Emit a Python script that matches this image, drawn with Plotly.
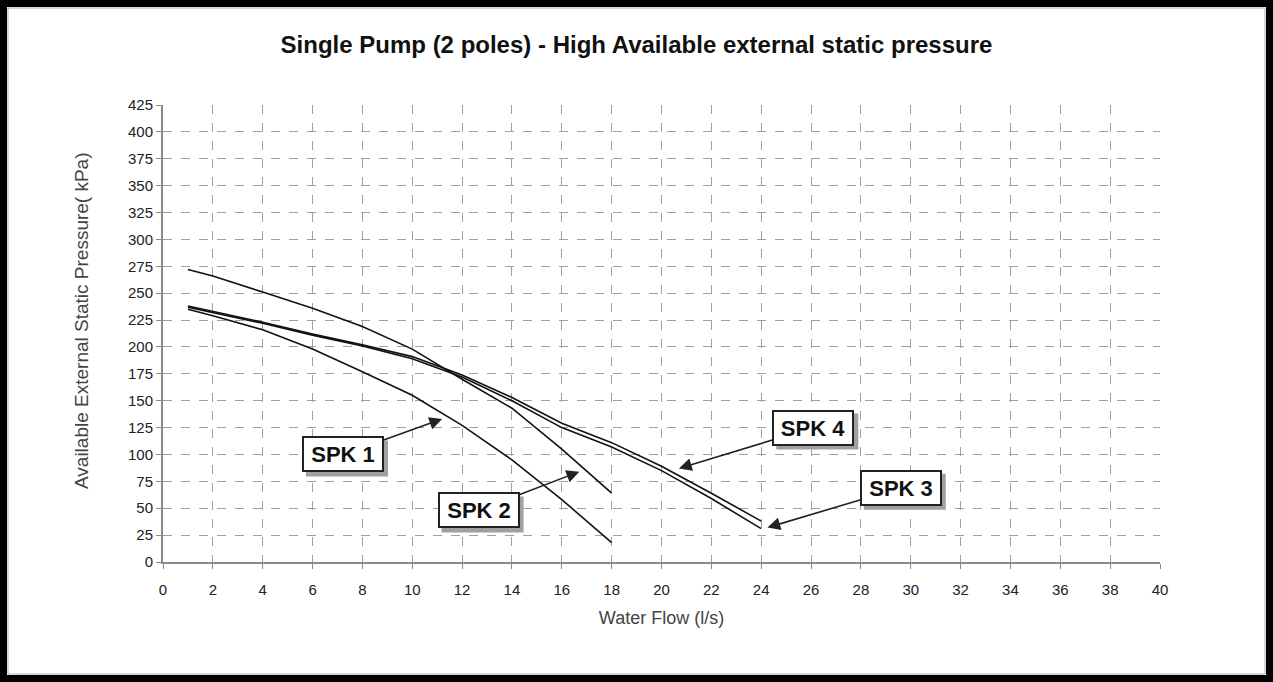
import plotly.graph_objects as go

# ---- data ----
flow_12 = [1, 2, 4, 6, 8, 10, 12, 14, 16, 18]
spk1 = [235, 229, 216, 198, 177, 155, 127, 95, 58, 18]
spk2 = [272, 266, 251, 236, 219, 198, 170, 143, 105, 64]

flow_34 = [1, 2, 4, 6, 8, 10, 12, 14, 16, 18, 20, 22, 24]
spk3 = [237, 232, 222, 211, 201, 189, 172, 150, 125, 107, 85, 59, 31]
spk4 = [238, 233, 223, 212, 202, 191, 174, 153, 129, 111, 89, 64, 38]

x_ticks = list(range(0, 41, 2))
y_ticks = list(range(0, 426, 25))

# label name, arrow tip (x, y), box centre (x, y)
labels = [
    ("SPK 1", 11.2, 133, 7.22, 100),
    ("SPK 2", 16.7, 84, 12.66, 48),
    ("SPK 4", 20.7, 87, 26.09, 125),
    ("SPK 3", 24.25, 32, 29.6, 69),
]

FONT = "Liberation Sans, Arial, sans-serif"

fig = go.Figure()
for name, xs, ys in [("SPK 1", flow_12, spk1), ("SPK 2", flow_12, spk2),
                     ("SPK 3", flow_34, spk3), ("SPK 4", flow_34, spk4)]:
    fig.add_trace(go.Scatter(x=xs, y=ys, mode="lines", name=name,
                             line=dict(color="#111111", width=1.6),
                             showlegend=False, hoverinfo="skip"))

W, H = 1273, 682
ml, mr, mt, mb = 163, 113, 105, 120
pw, ph = W - ml - mr, H - mt - mb


def px_to_paper_x(px):
    return (px - ml) / pw


def px_to_paper_y(py):
    return (H - mb - py) / ph


BOX_W, BOX_H = 82, 36
annotations = []
shapes = []
for text, tx, ty, bx, by in labels:
    # drop shadow behind each label box
    shapes.append(dict(type="rect", xref="x", yref="y",
                       xsizemode="pixel", ysizemode="pixel",
                       xanchor=bx, yanchor=by,
                       x0=-BOX_W / 2 + 4, x1=BOX_W / 2 + 4,
                       y0=-BOX_H / 2 - 4, y1=BOX_H / 2 - 4,
                       fillcolor="#a0a0a0", line=dict(width=0), layer="above"))
    annotations.append(dict(x=tx, y=ty, xref="x", yref="y", ax=bx, ay=by,
                            axref="x", ayref="y", text="<b>%s</b>" % text,
                            showarrow=True, arrowhead=2, arrowsize=1.6, arrowwidth=1.6,
                            arrowcolor="#222222",
                            width=BOX_W - 8, height=BOX_H - 8,
                            font=dict(family=FONT, size=22, color="#111111"),
                            bgcolor="white", bordercolor="#222222", borderwidth=2, borderpad=2))

# y-axis title placed as rotated text
annotations.append(dict(x=px_to_paper_x(81), y=px_to_paper_y(321), xref="paper", yref="paper",
                        text="Available External Static Pressure( kPa)", textangle=-90,
                        showarrow=False, xanchor="center", yanchor="middle",
                        font=dict(family=FONT, size=19, color="#444444")))

shapes += [
    # outer thick black frame
    dict(type="rect", xref="paper", yref="paper",
         x0=px_to_paper_x(3.5), x1=px_to_paper_x(W - 3.5),
         y0=px_to_paper_y(H - 3.5), y1=px_to_paper_y(3.5),
         line=dict(color="black", width=7), layer="above"),
    # thin grey inner line
    dict(type="rect", xref="paper", yref="paper",
         x0=px_to_paper_x(8), x1=px_to_paper_x(W - 8),
         y0=px_to_paper_y(H - 8), y1=px_to_paper_y(8),
         line=dict(color="#b0b0b0", width=1), layer="above"),
]

fig.update_layout(
    width=W, height=H,
    margin=dict(l=ml, r=mr, t=mt, b=mb),
    paper_bgcolor="white", plot_bgcolor="white",
    hovermode=False,
    title=dict(text="<b>Single Pump (2 poles) - High Available external static pressure</b>",
               x=0.5, xref="container", xanchor="center",
               y=1 - 45 / H, yref="container", yanchor="middle",
               font=dict(family=FONT, size=24, color="#111111")),
    xaxis=dict(range=[0, 40], tickvals=x_ticks, ticktext=[str(v) for v in x_ticks],
               showgrid=True, gridcolor="#a0a0a0", griddash="dash", gridwidth=1,
               showline=True, linecolor="#8a8a8a", linewidth=2,
               ticks="outside", ticklen=5, tickcolor="#8a8a8a",
               ticklabelstandoff=8,
               tickfont=dict(family=FONT, size=15, color="#222222"),
               title=dict(text="Water Flow (l/s)", standoff=14,
                          font=dict(family=FONT, size=18, color="#444444")),
               zeroline=False, fixedrange=True),
    yaxis=dict(range=[0, 425], tickvals=y_ticks, ticktext=[str(v) for v in y_ticks],
               showgrid=True, gridcolor="#a0a0a0", griddash="dash", gridwidth=1,
               showline=True, linecolor="#8a8a8a", linewidth=2,
               ticks="outside", ticklen=5, tickcolor="#8a8a8a",
               tickfont=dict(family=FONT, size=15, color="#222222"),
               zeroline=False, fixedrange=True),
    annotations=annotations,
    shapes=shapes,
)

fig.write_html("out.html", config={"displayModeBar": False},
               post_script="document.body.style.margin='0px';document.body.style.overflow='hidden';")
